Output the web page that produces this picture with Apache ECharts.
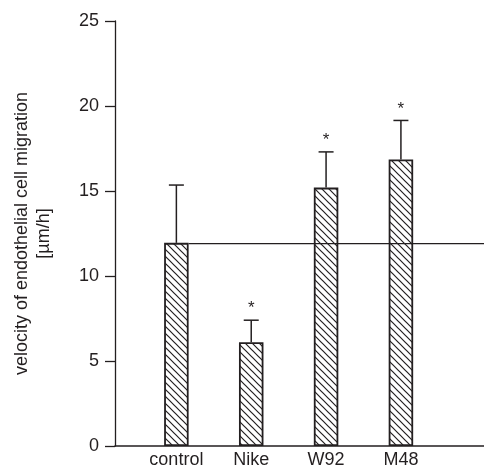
<!DOCTYPE html>
<html>
<head>
<meta charset="utf-8">
<script src="https://cdn.jsdelivr.net/npm/echarts@6/dist/echarts.min.js"></script>
<style>
html,body{margin:0;padding:0;background:#fff;}
#chart{width:484px;height:476px;}
</style>
</head>
<body>
<div id="chart"></div>
<script>
// ---- data ----
const categories = ['control', 'Nike', 'W92', 'M48'];
const means = [11.95, 6.1, 15.2, 16.85];
const errors = [3.4, 1.3, 2.1, 2.3];
const significant = [false, true, true, true];
const referenceValue = 11.9;
const yTicks = [0, 5, 10, 15, 20, 25];

// ---- styles ----
const INK = '#231f20';
const FONT = 'Liberation Sans, Arial, sans-serif';
const BAR_W = 24.5;

function hatch() {
  const s = 7;
  const c = document.createElement('canvas');
  c.width = s; c.height = s;
  const g = c.getContext('2d');
  g.fillStyle = '#fff';
  g.fillRect(0, 0, s, s);
  g.strokeStyle = INK;
  g.lineWidth = 1.2;
  g.beginPath();
  g.moveTo(-1, -1); g.lineTo(s + 1, s + 1);
  g.moveTo(-1, s - 1); g.lineTo(1, s + 1);
  g.moveTo(s - 1, -1); g.lineTo(s + 1, 1);
  g.stroke();
  return c;
}

const xs = categories.map((_, i) => i + 1);
const barData = xs.map((x, i) => [x, means[i]]);
const errData = xs.map((x, i) => [x, means[i], means[i] + errors[i], significant[i] ? 1 : 0]);

const chart = echarts.init(document.getElementById('chart'));
chart.setOption({
  animation: false,
  backgroundColor: '#fff',
  grid: { left: 115, right: 0, top: 21, bottom: 30 },
  xAxis: {
    type: 'value',
    min: 0.18,
    max: 5.11,
    splitLine: { show: false },
    axisTick: { show: false },
    axisLine: { show: true, lineStyle: { color: INK, width: 1.5 } },
    axisLabel: {
      customValues: xs,
      formatter: v => categories[Math.round(v) - 1] || '',
      color: INK, fontFamily: FONT, fontSize: 18, margin: 5
    }
  },
  yAxis: {
    type: 'value',
    min: yTicks[0], max: yTicks[yTicks.length - 1], interval: 5,
    splitLine: { show: false },
    axisLine: { show: true, lineStyle: { color: INK, width: 1.3 } },
    axisTick: { show: true, length: 10, lineStyle: { color: INK, width: 1.3 } },
    axisLabel: { color: INK, fontFamily: FONT, fontSize: 18, margin: 16 },
    name: 'velocity of endothelial cell migration\n[µm/h]',
    nameLocation: 'middle',
    nameRotate: 90,
    nameGap: 60,
    nameTextStyle: { color: INK, fontFamily: FONT, fontSize: 18, lineHeight: 22 }
  },
  series: [
    {
      type: 'bar',
      data: barData,
      barWidth: BAR_W,
      itemStyle: {
        color: { image: hatch(), repeat: 'repeat' },
        borderColor: INK,
        borderWidth: 1.8
      },
      z: 2
    },
    {
      type: 'custom',
      data: errData,
      z: 3,
      renderItem: function (params, api) {
        const x = api.value(0);
        const base = api.coord([x, api.value(1)]);
        const top = api.coord([x, api.value(2)]);
        const half = 7.5;
        const children = [
          { type: 'line', shape: { x1: base[0], y1: base[1], x2: top[0], y2: top[1] }, style: { stroke: INK, lineWidth: 1.5 } },
          { type: 'line', shape: { x1: top[0] - half, y1: top[1], x2: top[0] + half, y2: top[1] }, style: { stroke: INK, lineWidth: 1.5 } }
        ];
        if (api.value(3)) {
          children.push({
            type: 'text',
            style: { text: '*', x: top[0], y: top[1] - 3, align: 'center', verticalAlign: 'bottom', fill: INK, font: '17px ' + FONT }
          });
        }
        return { type: 'group', children: children };
      }
    },
    {
      type: 'custom',
      data: [[1, referenceValue]],
      z: 4,
      renderItem: function (params, api) {
        const p = api.coord([api.value(0), api.value(1)]);
        const end = params.coordSys.x + params.coordSys.width;
        return { type: 'line', shape: { x1: p[0] + BAR_W / 2, y1: p[1], x2: end, y2: p[1] }, style: { stroke: INK, lineWidth: 1.2 } };
      }
    }
  ]
});
</script>
</body>
</html>
